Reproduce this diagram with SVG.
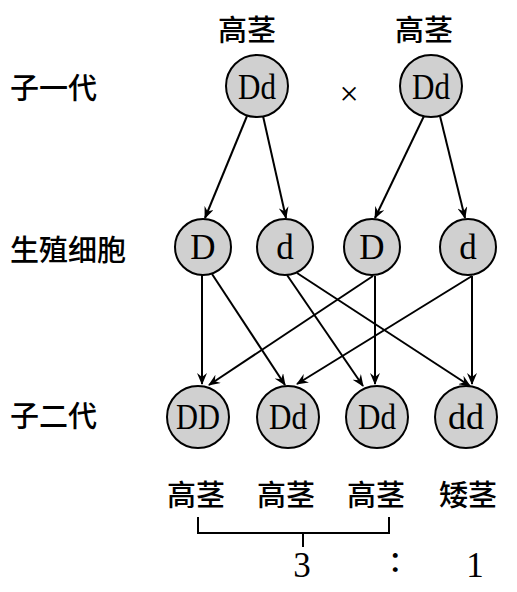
<svg xmlns="http://www.w3.org/2000/svg" width="517" height="592" viewBox="0 0 517 592">
<style>
.n circle{fill:#d0d0d0;stroke:#000;stroke-width:2}
.n text,.lt{font-family:"Liberation Serif",serif;font-size:35px;fill:#000;text-anchor:middle}
.cn{font-family:"Noto Sans CJK SC",sans-serif;font-size:29px;font-weight:500;fill:#000}
.c line,.c path{stroke:#000;stroke-width:2;fill:none}
</style>
<defs>
<marker id="ah" viewBox="0 0 12 10" refX="11" refY="5" markerWidth="12" markerHeight="10" markerUnits="userSpaceOnUse" orient="auto">
<path d="M0,0 L12,5 L0,10 L4,5 z" fill="#000"/>
</marker>
</defs>
<rect width="517" height="592" fill="#fff"/>
<g id="labels">
<text class="cn" x="10" y="99">子一代</text>
<text class="cn" x="10" y="261">生殖细胞</text>
<text class="cn" x="10" y="427">子二代</text>
<text class="cn" x="218" y="41">高茎</text>
<text class="cn" x="395" y="41">高茎</text>
<text class="cn" x="167" y="506">高茎</text>
<text class="cn" x="257" y="506">高茎</text>
<text class="cn" x="347" y="506">高茎</text>
<text class="cn" x="439" y="506">矮茎</text>
<text x="349" y="105" style="font-family:'Liberation Serif',serif;font-size:34px;text-anchor:middle">×</text>
<text class="lt" x="302" y="577">3</text>
<text class="cn" x="388" y="572">：</text>
<text class="lt" x="475" y="577">1</text>
</g>
<g id="p1" class="n"><circle cx="257" cy="86" r="31"/><text x="257" y="99" textLength="38" lengthAdjust="spacingAndGlyphs">Dd</text></g>
<g id="p2" class="n"><circle cx="431" cy="86" r="31"/><text x="431" y="99" textLength="38" lengthAdjust="spacingAndGlyphs">Dd</text></g>
<g id="g1" class="n"><circle cx="203" cy="247" r="28"/><text x="203" y="259">D</text></g>
<g id="g2" class="n"><circle cx="285" cy="247" r="28"/><text x="285" y="259">d</text></g>
<g id="g3" class="n"><circle cx="372" cy="247" r="28"/><text x="372" y="259">D</text></g>
<g id="g4" class="n"><circle cx="468" cy="247" r="28"/><text x="468" y="259">d</text></g>
<g id="f1" class="n"><circle cx="198" cy="417" r="31"/><text x="198" y="429" textLength="44" lengthAdjust="spacingAndGlyphs">DD</text></g>
<g id="f2" class="n"><circle cx="288" cy="417" r="31"/><text x="288" y="429" textLength="38" lengthAdjust="spacingAndGlyphs">Dd</text></g>
<g id="f3" class="n"><circle cx="377" cy="417" r="31"/><text x="377" y="429" textLength="38" lengthAdjust="spacingAndGlyphs">Dd</text></g>
<g id="f4" class="n"><circle cx="466" cy="417" r="31"/><text x="466" y="429" textLength="36" lengthAdjust="spacingAndGlyphs">dd</text></g>
<g id="connectors" class="c">
<line x1="247" y1="116" x2="205" y2="218" marker-end="url(#ah)"/>
<line x1="263" y1="116" x2="286" y2="218" marker-end="url(#ah)"/>
<line x1="424" y1="116" x2="375" y2="218" marker-end="url(#ah)"/>
<line x1="440" y1="116" x2="465" y2="218" marker-end="url(#ah)"/>
<line x1="202" y1="275" x2="202" y2="384" marker-end="url(#ah)"/>
<line x1="212" y1="274" x2="285" y2="385" marker-end="url(#ah)"/>
<line x1="287" y1="275" x2="363" y2="386" marker-end="url(#ah)"/>
<line x1="297" y1="273" x2="470" y2="386" marker-end="url(#ah)"/>
<line x1="373" y1="276" x2="209" y2="385" marker-end="url(#ah)"/>
<line x1="375" y1="276" x2="375" y2="384" marker-end="url(#ah)"/>
<line x1="472" y1="276" x2="297" y2="384" marker-end="url(#ah)"/>
<line x1="472" y1="276" x2="472" y2="384" marker-end="url(#ah)"/>
<path d="M198,517 V533 H389 V517 M303,533 V547"/>
</g>
</svg>
